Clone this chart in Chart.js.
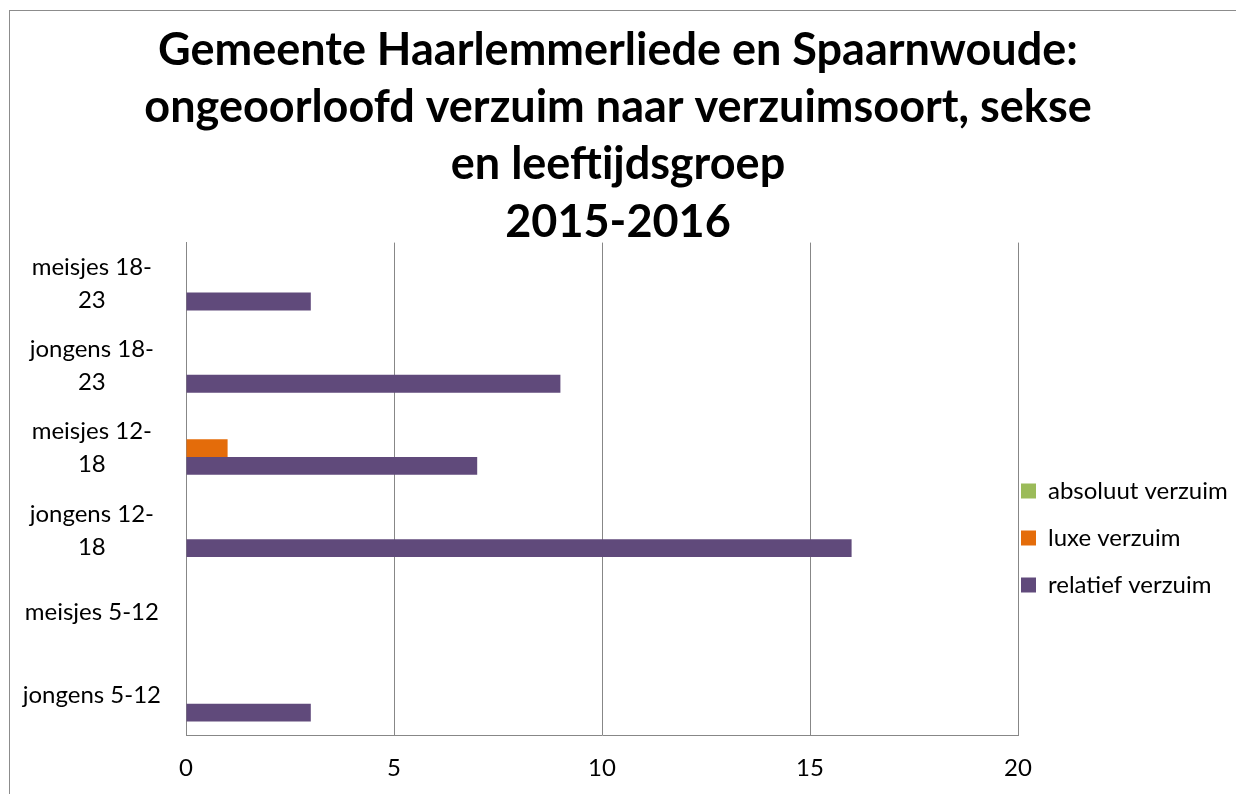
<!DOCTYPE html>
<html>
<head>
<meta charset="utf-8">
<script src="https://cdn.jsdelivr.net/npm/chart.js@4.4.0/dist/chart.umd.min.js"></script>
<style>
  html, body { margin: 0; padding: 0; background: #fff; overflow: hidden; }
  #wrap { position: relative; width: 1236px; height: 794px; }
  #frame { position: absolute; left: 9px; top: 10px; width: 1300px; height: 900px; border: 1px solid #8c8c8c; pointer-events: none; }
</style>
</head>
<body>
<div id="wrap">
  <canvas id="verzuimChart" width="1236" height="794"></canvas>
  <div id="frame"></div>
</div>
<script>
// categorieen van boven naar beneden
const categories = [
    ['meisjes 18-', '23'],
    ['jongens 18-', '23'],
    ['meisjes 12-', '18'],
    ['jongens 12-', '18'],
    'meisjes 5-12',
    'jongens 5-12',
];
const absoluutVerzuim = [0, 0, 0, 0, 0, 0];
const luxeVerzuim = [0, 0, 1, 0, 0, 0];
const relatiefVerzuim = [3, 9, 7, 16, 0, 3];
const xTicks = [0, 5, 10, 15, 20];

const titleLines = [
    'Gemeente Haarlemmerliede en Spaarnwoude:',
    'ongeoorloofd verzuim naar verzuimsoort, sekse',
    'en leeftijdsgroep',
    '2015-2016',
];

const gridColor = '#878787';
const fontFamily = 'Lato, "Open Sans", sans-serif';

// schuift de legenda naar de plek van het origineel
const legendShift = {
    id: 'legendShift',
    afterLayout(chart) {
        let lg = chart.legend;
        lg.left -= 20;
        lg.top += 141;
        lg.bottom += 141;
    },
};

let graphic = document.getElementById('verzuimChart');
if (graphic) {
    let ctx = graphic.getContext('2d');

    let verzuimChart = new Chart(ctx, {
        type: 'bar',
        data: {
            labels: categories,
            datasets: [{
                label: 'absoluut verzuim',
                data: absoluutVerzuim,
                backgroundColor: '#9BBB59',
            }, {
                label: 'luxe verzuim',
                data: luxeVerzuim,
                backgroundColor: '#E46C0A',
            }, {
                label: 'relatief verzuim',
                data: relatiefVerzuim,
                backgroundColor: '#604A7B',
            }],
        },
        options: {
            indexAxis: 'y',
            responsive: false,
            animation: false,
            datasets: {
                bar: {
                    categoryPercentage: 0.65,
                    barPercentage: 1,
                    borderWidth: 0,
                },
            },
            scales: {
                x: {
                    min: 0,
                    max: 20,
                    afterBuildTicks: (scale) => {
                        scale.ticks = xTicks.map(v => ({ value: v }));
                    },
                    afterFit: (scale) => { scale.height = 56; },
                    grid: { color: gridColor, lineWidth: 1, drawTicks: false },
                    border: { color: gridColor, width: 1 },
                    ticks: {
                        color: '#000',
                        padding: 18,
                        font: { family: fontFamily, size: 24 },
                    },
                },
                y: {
                    afterFit: (scale) => { scale.width = 186; },
                    grid: { display: false, drawTicks: false },
                    border: { color: gridColor, width: 1 },
                    ticks: {
                        color: '#000',
                        padding: 25,
                        crossAlign: 'center',
                        font: { family: fontFamily, size: 24, lineHeight: 1.38 },
                    },
                },
            },
            plugins: {
                title: {
                    display: true,
                    text: titleLines,
                    color: '#000',
                    font: { family: fontFamily, size: 45, weight: 'bold', lineHeight: 1.27 },
                    padding: { top: 22, bottom: -8 },
                },
                legend: {
                    display: true,
                    position: 'right',
                    maxWidth: 218,
                    labels: {
                        color: '#000',
                        boxWidth: 15,
                        boxHeight: 15,
                        padding: 23,
                        font: { family: fontFamily, size: 24 },
                    },
                },
                tooltip: { enabled: false },
            },
        },
        plugins: [legendShift],
    });
}
</script>
</body>
</html>
